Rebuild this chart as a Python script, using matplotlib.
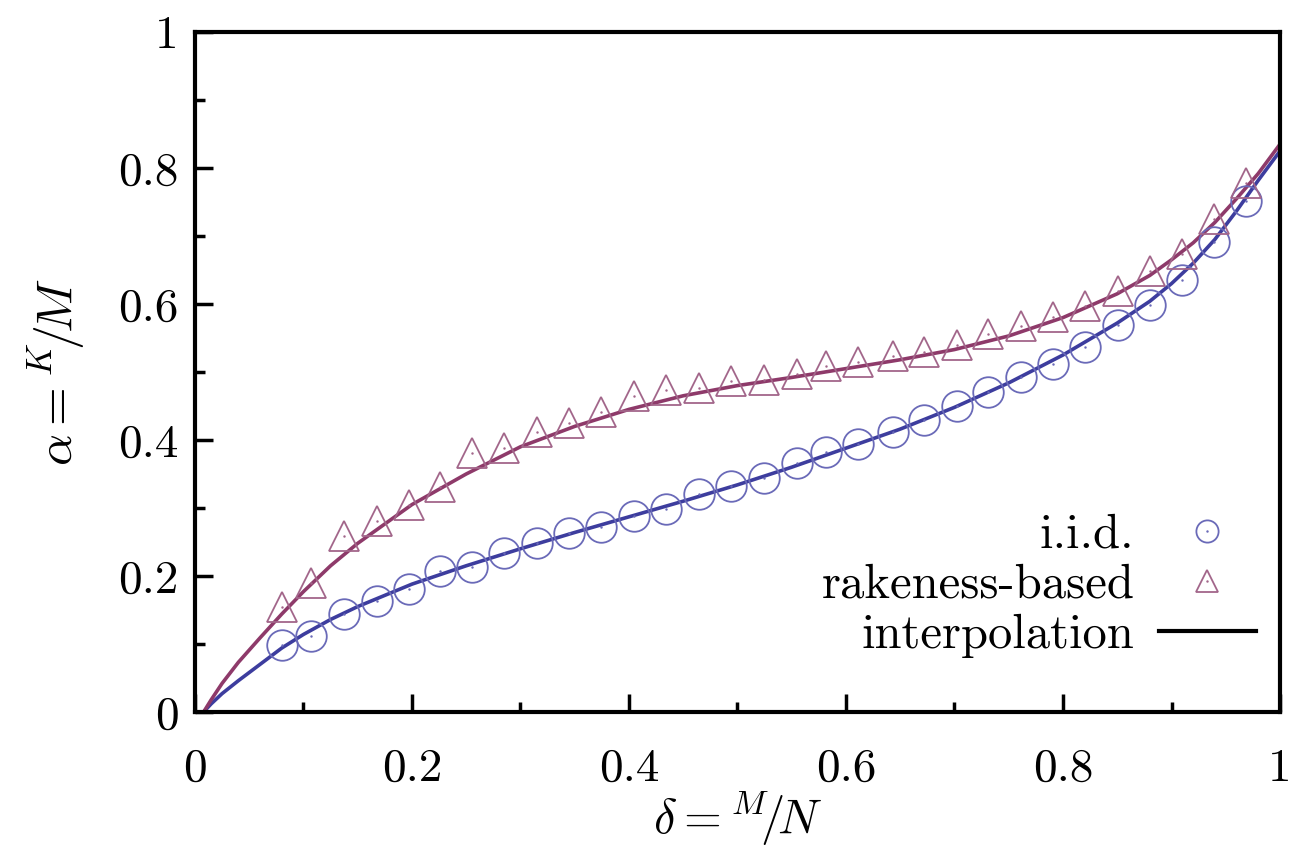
import numpy as np
import matplotlib
matplotlib.use('Agg')
import matplotlib.pyplot as plt
from matplotlib.lines import Line2D

plt.rcParams['font.family'] = 'serif'
plt.rcParams['font.serif'] = ['cmr10']
plt.rcParams['mathtext.fontset'] = 'cm'
plt.rcParams['axes.formatter.use_mathtext'] = True

# measured points (delta = M/N)
delta = [0.080, 0.107, 0.137, 0.168, 0.197, 0.226, 0.255, 0.285, 0.315, 0.345,
         0.374, 0.405, 0.434, 0.465, 0.494, 0.524, 0.555, 0.582, 0.611, 0.643,
         0.672, 0.702, 0.731, 0.761, 0.791, 0.820, 0.851, 0.880, 0.910, 0.939, 0.969]
alpha_iid = [0.099, 0.112, 0.144, 0.163, 0.181, 0.207, 0.213, 0.234, 0.249, 0.263,
             0.272, 0.288, 0.299, 0.321, 0.332, 0.344, 0.366, 0.382, 0.394, 0.412,
             0.429, 0.450, 0.471, 0.493, 0.512, 0.537, 0.569, 0.599, 0.635, 0.691, 0.751]
alpha_rak = [0.154, 0.190, 0.259, 0.281, 0.304, 0.331, 0.381, 0.388, 0.412, 0.425,
             0.441, 0.465, 0.474, 0.476, 0.487, 0.488, 0.497, 0.509, 0.515, 0.524,
             0.529, 0.540, 0.556, 0.568, 0.581, 0.597, 0.619, 0.649, 0.674, 0.725, 0.778]

# interpolation curves
curve_x = [0.008, 0.015, 0.025, 0.04, 0.06, 0.08, 0.1, 0.125, 0.15, 0.2, 0.25, 0.3, 0.35,
           0.4, 0.45, 0.5, 0.55, 0.6, 0.65, 0.7, 0.75, 0.8, 0.85, 0.88, 0.9,
           0.92, 0.94, 0.96, 0.98, 1.0]
curve_iid = [0.0, 0.012, 0.027, 0.046, 0.070, 0.094, 0.114, 0.136, 0.155, 0.188, 0.215,
             0.240, 0.264, 0.287, 0.310, 0.334, 0.360, 0.388, 0.416, 0.448, 0.484,
             0.525, 0.572, 0.604, 0.630, 0.660, 0.695, 0.737, 0.782, 0.825]
curve_rak = [0.0, 0.018, 0.042, 0.073, 0.109, 0.144, 0.177, 0.215, 0.248, 0.305, 0.350,
             0.390, 0.420, 0.445, 0.465, 0.480, 0.492, 0.505, 0.518, 0.533, 0.553,
             0.580, 0.615, 0.642, 0.665, 0.690, 0.720, 0.755, 0.792, 0.835]

major_ticks = [0, 0.2, 0.4, 0.6, 0.8, 1]
minor_ticks = [0.1, 0.3, 0.5, 0.7, 0.9]
tick_labels = ['0', '0.2', '0.4', '0.6', '0.8', '1']

blue = '#3d3d9e'
plum = '#8e3a6a'
blue_m = '#6a6ab8'
plum_m = '#a2668a'

fig = plt.figure(figsize=(12.97, 8.58), dpi=100)
ax = fig.add_axes([0.1503, 0.1702, 0.8366, 0.7925])

ax.plot(curve_x, curve_iid, color=blue, lw=2.6, zorder=2)
ax.plot(curve_x, curve_rak, color=plum, lw=2.6, zorder=2)
ax.plot(delta, alpha_iid, ls='none', marker='o', ms=22, mfc='none', mec=blue_m, mew=1.3, zorder=3)
ax.plot(delta, alpha_iid, ls='none', marker='.', ms=1.5, color=blue_m, zorder=3)
ax.plot(delta, alpha_rak, ls='none', marker='^', ms=22, mfc='none', mec=plum_m, mew=1.3, zorder=3)
ax.plot(delta, alpha_rak, ls='none', marker='.', ms=1.5, color=plum_m, zorder=3)

ax.set_xlim(0, 1)
ax.set_ylim(0, 1)
ax.set_xticks(major_ticks)
ax.set_xticks(minor_ticks, minor=True)
ax.set_yticks(major_ticks)
ax.set_yticks(minor_ticks, minor=True)
ax.set_xticklabels(tick_labels)
ax.set_yticklabels(tick_labels)
ax.tick_params(which='both', direction='in', top=False, right=False, labelsize=34, width=2.5)
ax.tick_params(which='major', length=13)
ax.tick_params(which='minor', length=7)
ax.tick_params(axis='x', which='major', pad=26)
ax.tick_params(axis='y', which='major', pad=12)
for s in ax.spines.values():
    s.set_linewidth(3)

ax.set_xlabel(r'$\delta = {}^{M}\!/\!N$', fontsize=35, labelpad=0)
ax.set_ylabel(r'$\alpha = {}^{K}\!/\!M$', fontsize=36, labelpad=22)

h_iid = (Line2D([], [], ls='none', marker='o', ms=16, mfc='none', mec=blue_m, mew=1.3),
         Line2D([], [], ls='none', marker='.', ms=1.5, color=blue_m))
h_rak = (Line2D([], [], ls='none', marker='^', ms=16, mfc='none', mec=plum_m, mew=1.3),
         Line2D([], [], ls='none', marker='.', ms=1.5, color=plum_m))
h_int = Line2D([], [], color='black', lw=3)
ax.legend([h_iid, h_rak, h_int], ['i.i.d.', 'rakeness-based', 'interpolation'],
          loc='lower right', bbox_to_anchor=(1.018, 0.015), frameon=False,
          markerfirst=False, fontsize=35, handlelength=2.0, handletextpad=0.5,
          labelspacing=0.12)

fig.savefig('out.png', dpi=100)
